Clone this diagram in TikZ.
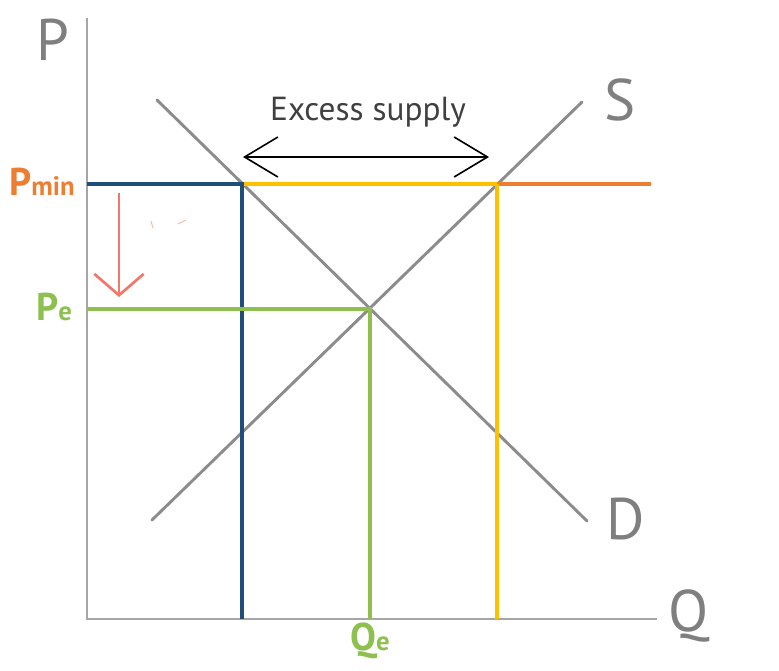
\documentclass[tikz,border=0pt]{standalone}
\usepackage{fontspec}
\setmainfont{PT Sans}
\usepackage{xcolor}
\usetikzlibrary{arrows.meta}
\definecolor{axisgray}{HTML}{A6A6A6}
\definecolor{curvegray}{HTML}{8C8C8C}
\definecolor{labelgray}{HTML}{7F7F7F}
\definecolor{pminblue}{HTML}{1F4E79}
\definecolor{excessyellow}{HTML}{FFC000}
\definecolor{floororange}{HTML}{ED7D31}
\definecolor{eqgreen}{HTML}{8DC04F}
\definecolor{dropred}{HTML}{F4756A}

\begin{document}
\begin{tikzpicture}[x=0.75pt,y=-0.75pt,
  axis/.style={axisgray,line width=2.2pt},
  curve/.style={curvegray,line width=2.2pt,line cap=round},
  level/.style={line width=2.8pt},
  axislabel/.style={labelgray,font=\fontsize{44}{44}\selectfont},
  pricelabel/.style={font=\bfseries}]
\useasboundingbox (0,0) rectangle (779,671);
%\draw[step=50,red,thin] (0,0) grid (779,671);

% axes
\coordinate (O) at (87,619);
\coordinate (Ptop) at (87,18);
\coordinate (Qend) at (657,619);
\draw[axis] (Ptop) -- (O) -- (Qend);

\node[axislabel] (P) at (53,40) {P};
\node[axislabel] (Q) at (689,616) {Q};

% demand and supply
\coordinate (Dstart) at (157,100);
\coordinate (Dend) at (587,521);
\coordinate (Sstart) at (152,520);
\coordinate (Send) at (582,102);
\draw[curve] (Dstart) -- (Dend);
\draw[curve] (Sstart) -- (Send);
\node[axislabel] (S) at (620,100) {S};
\node[axislabel] (D) at (626,519) {D};

% price floor
\coordinate (Pmin) at (87,184);
\coordinate (Qd) at (242,184);
\coordinate (Qs) at (497,184);
\coordinate (Fend) at (651,184);
\coordinate (QdO) at (242,619);
\coordinate (QsO) at (497,619);
\draw[level,floororange] (Qs) -- (Fend);
\draw[level,excessyellow] (Qd) -- (Qs);
\draw[level,excessyellow] (Qs) -- (QsO);
\draw[level,pminblue] (Pmin) -- (Qd) -- (QdO);

% equilibrium
\coordinate (Pe) at (87,309);
\coordinate (E) at (370,309);
\coordinate (QeO) at (370,619);
\draw[level,eqgreen] (Pe) -- (E) -- (QeO);

\node[pricelabel,floororange] (PminLab) at (42,182)
  {\fontsize{29}{29}\selectfont P\fontsize{20}{20}\selectfont min};
\node[pricelabel,eqgreen] (PeLab) at (54,307)
  {\fontsize{29}{29}\selectfont P\fontsize{20}{20}\selectfont e};
\node[pricelabel,eqgreen] (QeLab) at (370,641)
  {\fontsize{29}{29}\selectfont Q\fontsize{20}{20}\selectfont e};

% excess supply
\coordinate (XsL) at (243,157);
\coordinate (XsR) at (489,157);
\draw[black,line width=1.2pt,{Straight Barb[length=25pt,width=30pt]}-{Straight Barb[length=25pt,width=30pt]}] (XsL) -- (XsR);
\node[text=black!75,font=\fontsize{25}{25}\selectfont] (Xs) at (368,112) {Excess supply};

% drop towards equilibrium
\coordinate (DropTop) at (119,193);
\coordinate (DropEnd) at (119,297);
\draw[dropred,line width=2pt,-{Straight Barb[length=16pt,width=37pt]}] (DropTop) -- (DropEnd);
\draw[dropred!50,line width=0.8pt] (151,221) -- (153,228);
\draw[dropred!50,line width=0.8pt] (178,224) -- (186,220);

\end{tikzpicture}
\end{document}
